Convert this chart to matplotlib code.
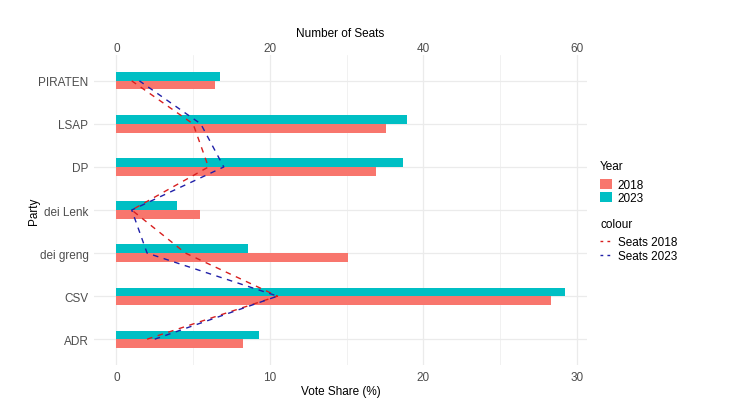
"""
Luxembourg elections 2018 vs 2023: vote share bars with seat lines
"""

import numpy as np
import matplotlib.pyplot as plt
from matplotlib.patches import Patch
from matplotlib.lines import Line2D

plt.rcParams['font.family'] = ['Liberation Sans', 'DejaVu Sans']
plt.rcParams['font.size'] = 8.5

parties = ['ADR', 'CSV', 'dei greng', 'dei Lenk', 'DP', 'LSAP', 'PIRATEN']
share_2018 = [8.28, 28.31, 15.12, 5.48, 16.91, 17.60, 6.45]
share_2023 = [9.27, 29.21, 8.55, 3.93, 18.69, 18.91, 6.74]
seats_2018 = [4, 21, 9, 2, 12, 10, 2]
seats_2023 = [5, 21, 4, 2, 14, 11, 3]

SEAT_SCALE = 2  # seats plotted at seats / 2 on the vote-share axis

C2018 = '#F8766D'
C2023 = '#00BFC4'
RED = '#d81e1e'
BLUE = '#2020a8'
GRID = '#ebebeb'
TICK = '#4d4d4d'


def main():
    fig = plt.figure(figsize=(7.5, 4.14), dpi=100)
    ax = fig.add_axes([0.1253, 0.1159, 0.6573, 0.7488])

    y = np.arange(1, len(parties) + 1)
    h = 0.2
    ax.barh(y - h / 2, share_2018, height=h, color=C2018, zorder=2)
    ax.barh(y + h / 2, share_2023, height=h, color=C2023, zorder=2)

    s18 = np.array(seats_2018) / SEAT_SCALE
    s23 = np.array(seats_2023) / SEAT_SCALE
    ax.plot(s18, y, color=RED, linestyle=(0, (4, 4)), linewidth=1.0, zorder=3)
    ax.plot(s23, y, color=BLUE, linestyle=(0, (4, 4)), linewidth=1.0, zorder=3)

    xmax = max(max(share_2018), max(share_2023))
    pad = xmax * 0.05
    ax.set_xlim(-pad, xmax + pad)
    ax.set_ylim(0.4, len(parties) + 0.6)

    ax.set_xticks([0, 10, 20, 30])
    ax.set_xticks([5, 15, 25], minor=True)
    ax.set_yticks(y)
    ax.set_yticklabels(parties)
    ax.grid(which='major', color=GRID, linewidth=0.9, zorder=0)
    ax.grid(which='minor', axis='x', color=GRID, linewidth=0.5, zorder=0)
    ax.set_axisbelow(True)
    for s in ax.spines.values():
        s.set_visible(False)
    ax.tick_params(which='both', length=0, colors=TICK, labelsize=8.5, pad=4)

    ax.set_xlabel('Vote Share (%)', fontsize=8.5, labelpad=2)
    ax.set_ylabel('Party', fontsize=8.5, labelpad=-1)

    # secondary axis for seats
    top = ax.secondary_xaxis('top', functions=(lambda v: v * SEAT_SCALE,
                                                lambda v: v / SEAT_SCALE))
    top.set_xticks([0, 20, 40, 60])
    top.tick_params(length=0, colors=TICK, labelsize=8.5, pad=1)
    for s in top.spines.values():
        s.set_visible(False)
    top.set_xlabel('Number of Seats', fontsize=8.5, labelpad=4)

    # legends
    year_handles = [Patch(facecolor=C2018, edgecolor='none', label='2018'),
                    Patch(facecolor=C2023, edgecolor='none', label='2023')]
    leg1 = fig.legend(handles=year_handles, title='Year', loc='upper left',
                      bbox_to_anchor=(0.794, 0.623), frameon=False,
                      handlelength=1.0, handleheight=1.0, handletextpad=0.5,
                      labelspacing=0.05, fontsize=8.5, title_fontsize=8.5,
                      alignment='left', borderaxespad=0)
    leg1._legend_box.sep = 5

    line_handles = [Line2D([0], [0], color=RED, linestyle=(0, (2, 3)), linewidth=1.0, label='Seats 2018'),
                    Line2D([0], [0], color=BLUE, linestyle=(0, (2, 3)), linewidth=1.0, label='Seats 2023')]
    leg2 = fig.legend(handles=line_handles, title='colour', loc='upper left',
                      bbox_to_anchor=(0.794, 0.482), frameon=False,
                      handlelength=1.0, handletextpad=0.5, labelspacing=0.2,
                      fontsize=8.5, title_fontsize=8.5, alignment='left',
                      borderaxespad=0)
    leg2._legend_box.sep = 4

    fig.savefig('out.png', dpi=100)
    plt.close()


if __name__ == "__main__":
    main()
